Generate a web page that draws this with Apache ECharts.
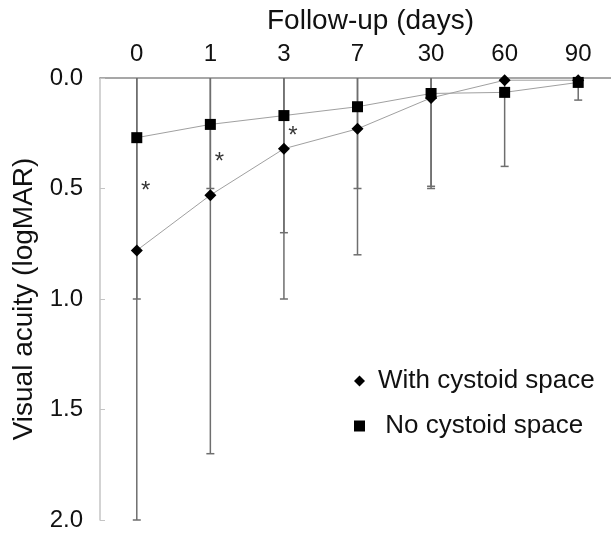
<!DOCTYPE html>
<html>
<head>
<meta charset="utf-8">
<script src="https://cdn.jsdelivr.net/npm/echarts@6/dist/echarts.min.js"></script>
<style>
  html, body { margin: 0; padding: 0; background: #fff; }
  #chart { width: 611px; height: 536px; }
</style>
</head>
<body>
<div id="chart"></div>
<script>
// follow-up days (top axis)
var days = ['0', '1', '3', '7', '30', '60', '90'];
var yTicks = [0, 0.5, 1.0, 1.5, 2.0];

// visual acuity (logMAR), mean and SD
var withCystoid = [0.78, 0.53, 0.32, 0.23, 0.09, 0.01, 0.01];
var withCystoidSD = [1.22, 1.17, 0.68, 0.57, 0.40, 0, 0];
var noCystoid = [0.27, 0.21, 0.17, 0.13, 0.07, 0.065, 0.02];
var noCystoidSD = [0.73, 0.29, 0.53, 0.37, 0.43, 0.335, 0.08];

// significance markers: [day index, logMAR]
var starMarks = [[0, 0.49], [1, 0.36], [2, 0.24]];

var chart = echarts.init(document.getElementById('chart'));
var FONT = 'Liberation Sans, Arial, sans-serif';

function errData(means, sds) {
    return means.map(function (m, i) { return [i, m, sds[i]]; });
}

function renderErr(params, api) {
    var x = api.value(0), m = api.value(1), sd = api.value(2);
    if (!sd) return;
    var lo = m + sd, hiVal = m - sd;
    var pLo = api.coord([x, lo]);
    var pHi = api.coord([x, Math.max(0, hiVal)]);
    var st = { stroke: '#6e6e6e', lineWidth: 1.5 };
    var kids = [
        { type: 'line', shape: { x1: pLo[0], y1: pHi[1], x2: pLo[0], y2: pLo[1] }, style: st },
        { type: 'line', shape: { x1: pLo[0] - 4, y1: pLo[1], x2: pLo[0] + 4, y2: pLo[1] }, style: st }
    ];
    if (hiVal > 0) {
        kids.push({ type: 'line', shape: { x1: pHi[0] - 4, y1: pHi[1], x2: pHi[0] + 4, y2: pHi[1] }, style: st });
    }
    return { type: 'group', children: kids };
}

var option = {
    animation: false,
    backgroundColor: '#fff',
    title: {
        text: 'Follow-up (days)',
        left: 267,
        top: 7,
        padding: 0,
        textStyle: { fontFamily: FONT, fontSize: 28, fontWeight: 'normal', color: '#111' }
    },
    legend: {
        orient: 'vertical',
        left: 354,
        top: 368,
        padding: 0,
        itemWidth: 11,
        itemHeight: 11,
        itemGap: 19,
        data: [
            { name: 'With cystoid space', icon: 'diamond' },
            { name: 'No cystoid space', icon: 'rect' }
        ],
        formatter: function (name) {
            return name === 'No cystoid space' ? ' ' + name : name;
        },
        textStyle: { fontFamily: FONT, fontSize: 26, color: '#111', padding: [0, 0, 0, 8] }
    },
    grid: { left: 100, top: 78, width: 515, height: 442, containLabel: false, outerBoundsMode: 'none' },
    xAxis: {
        type: 'category',
        position: 'top',
        data: days,
        boundaryGap: true,
        axisLine: { lineStyle: { color: '#8a8a8a', width: 1.5 } },
        axisTick: { show: false },
        axisLabel: { fontFamily: FONT, fontSize: 24, color: '#111', margin: 12 },
        splitLine: { show: false }
    },
    yAxis: {
        type: 'value',
        inverse: true,
        min: 0,
        max: 2,
        interval: 0.5,
        name: 'Visual acuity (logMAR)',
        nameLocation: 'middle',
        nameRotate: 90,
        nameGap: 60,
        nameTextStyle: { fontFamily: FONT, fontSize: 28, color: '#111' },
        axisLine: { show: true, lineStyle: { color: '#c4c4c4', width: 1.5 } },
        axisTick: { show: true, inside: true, length: 5, lineStyle: { color: '#c4c4c4' } },
        axisLabel: {
            fontFamily: FONT, fontSize: 24, color: '#111', margin: 17,
            formatter: function (v) { return v.toFixed(1); }
        },
        splitLine: { show: false }
    },
    series: [
        {
            type: 'custom',
            renderItem: renderErr,
            data: errData(withCystoid, withCystoidSD),
            z: 1,
            silent: true
        },
        {
            type: 'custom',
            renderItem: renderErr,
            data: errData(noCystoid, noCystoidSD),
            z: 1,
            silent: true
        },
        {
            name: 'With cystoid space',
            type: 'line',
            data: withCystoid,
            symbol: 'diamond',
            symbolSize: 12,
            itemStyle: { color: '#000' },
            lineStyle: { color: '#a0a0a0', width: 1 },
            z: 3
        },
        {
            name: 'No cystoid space',
            type: 'line',
            data: noCystoid,
            symbol: 'rect',
            symbolSize: 11,
            itemStyle: { color: '#000' },
            lineStyle: { color: '#a0a0a0', width: 1 },
            z: 3
        },
        {
            type: 'scatter',
            data: starMarks,
            symbolSize: 1,
            itemStyle: { color: 'rgba(0,0,0,0)' },
            label: {
                show: true,
                formatter: '*',
                position: 'inside',
                offset: [9, 5],
                fontFamily: FONT,
                fontSize: 24,
                color: '#000'
            },
            silent: true,
            z: 4
        }
    ]
};
chart.setOption(option);

window.addEventListener('resize', function () {
    chart.resize();
});
</script>
</body>
</html>
